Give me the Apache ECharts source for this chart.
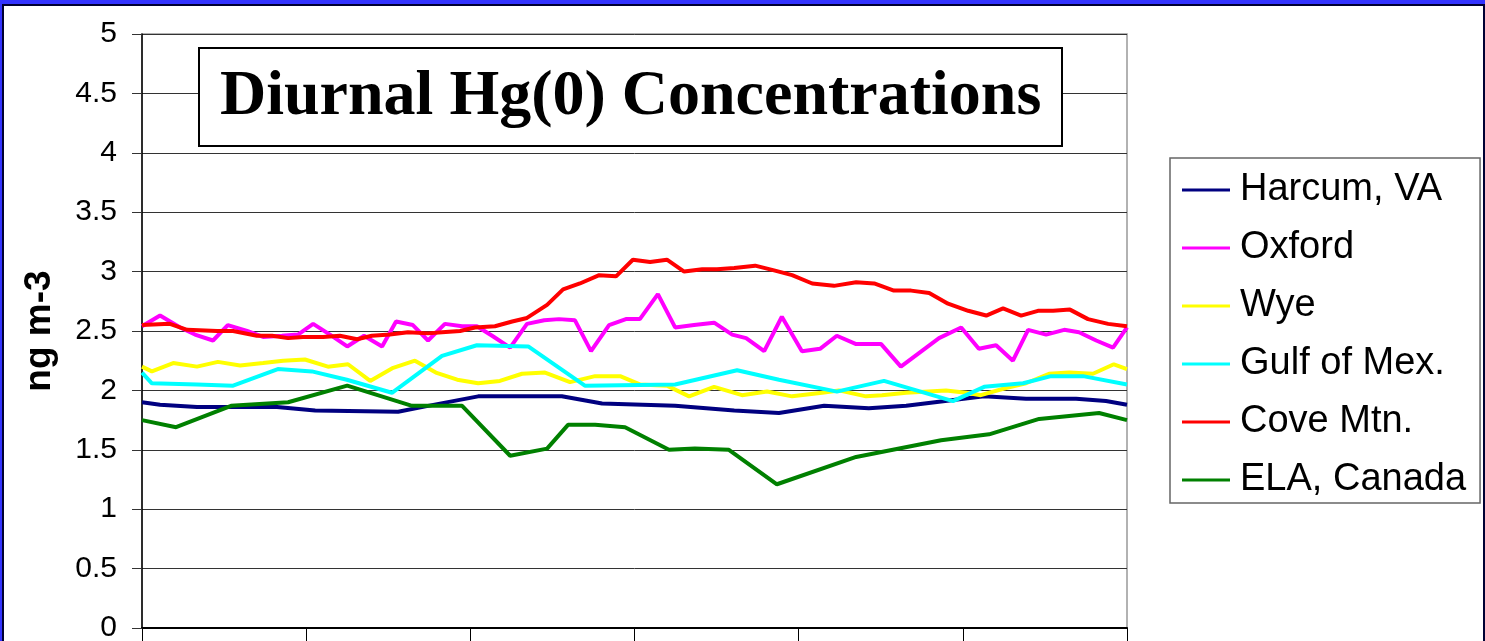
<!DOCTYPE html>
<html>
<head>
<meta charset="utf-8">
<script src="https://cdn.jsdelivr.net/npm/echarts@6/dist/echarts.min.js"></script>
<style>
  html, body { margin: 0; padding: 0; }
  #frame { position: relative; width: 1485px; height: 641px; overflow: hidden; background: #3333ff; }
  #chart {
    position: absolute; left: 2px; top: 4px;
    width: 1479px; height: 640px;
    border: 2px solid #000033; background: #ffffff;
  }
</style>
</head>
<body>
<div id="frame"><div id="chart"></div></div>
<script>
// hour of day (x) and Hg(0) in ng m-3 (y), one pair of arrays per site
const harcumHours = [0, 0.44, 1.34, 3.29, 4.22, 6.24, 6.97, 8.19, 10.23, 11.21, 12.99, 14.43, 15.52, 16.62, 17.71, 18.62, 20.52, 21.54, 22.76, 23.49, 24];
const harcumValues = [1.90, 1.88, 1.86, 1.86, 1.83, 1.82, 1.87, 1.95, 1.95, 1.89, 1.87, 1.83, 1.81, 1.87, 1.85, 1.87, 1.95, 1.93, 1.93, 1.91, 1.88];

const oxfordHours = [0, 0.44, 0.93, 1.29, 1.73, 2.09, 2.56, 2.95, 3.41, 3.80, 4.17, 4.58, 5.00, 5.41, 5.85, 6.19, 6.60, 6.97, 7.38, 7.80, 8.16, 8.53, 8.97, 9.38, 9.80, 10.16, 10.55, 10.94, 11.38, 11.79, 12.13, 12.57, 12.99, 13.45, 13.94, 14.38, 14.72, 15.16, 15.59, 16.08, 16.52, 16.93, 17.40, 18.01, 18.49, 19.42, 19.96, 20.39, 20.81, 21.22, 21.59, 22.03, 22.47, 22.83, 23.25, 23.66, 24];
const oxfordValues = [2.54, 2.63, 2.53, 2.47, 2.42, 2.55, 2.50, 2.45, 2.46, 2.47, 2.56, 2.47, 2.37, 2.46, 2.37, 2.58, 2.55, 2.42, 2.56, 2.54, 2.54, 2.46, 2.36, 2.56, 2.59, 2.60, 2.59, 2.33, 2.55, 2.60, 2.60, 2.81, 2.53, 2.55, 2.57, 2.47, 2.44, 2.33, 2.62, 2.33, 2.35, 2.46, 2.39, 2.39, 2.20, 2.44, 2.53, 2.35, 2.38, 2.25, 2.51, 2.47, 2.51, 2.49, 2.42, 2.36, 2.53];

const wyeHours = [0, 0.24, 0.76, 1.34, 1.85, 2.39, 2.95, 3.44, 3.97, 4.53, 5.02, 5.56, 6.12, 6.65, 7.16, 7.68, 8.19, 8.72, 9.26, 9.82, 10.43, 11.04, 11.65, 12.13, 12.79, 13.33, 13.94, 14.62, 15.23, 15.84, 16.57, 16.98, 17.64, 18.03, 18.62, 19.59, 20.08, 20.44, 21.05, 21.54, 22.10, 22.59, 23.17, 23.68, 24];
const wyeValues = [2.20, 2.16, 2.23, 2.20, 2.24, 2.21, 2.23, 2.25, 2.26, 2.20, 2.22, 2.08, 2.19, 2.25, 2.15, 2.09, 2.06, 2.08, 2.14, 2.15, 2.07, 2.12, 2.12, 2.05, 2.04, 1.95, 2.03, 1.96, 1.99, 1.95, 1.98, 2.00, 1.95, 1.96, 1.98, 2.00, 1.98, 1.96, 2.02, 2.06, 2.14, 2.15, 2.14, 2.22, 2.18];

const gulfHours = [0, 0.24, 1.34, 2.22, 3.31, 4.14, 4.99, 6.09, 7.31, 8.16, 9.41, 10.79, 12.99, 14.50, 15.52, 16.93, 18.08, 19.76, 20.52, 21.47, 22.15, 22.93, 24];
const gulfValues = [2.15, 2.06, 2.05, 2.04, 2.18, 2.16, 2.09, 1.98, 2.29, 2.38, 2.37, 2.04, 2.05, 2.17, 2.09, 1.99, 2.08, 1.91, 2.03, 2.06, 2.12, 2.12, 2.05];

const coveHours = [0, 0.68, 1.10, 1.83, 2.22, 2.80, 3.17, 3.56, 3.92, 4.41, 4.82, 5.24, 5.60, 6.04, 6.48, 6.97, 7.31, 7.75, 8.11, 8.60, 9.02, 9.38, 9.87, 10.26, 10.67, 11.14, 11.55, 11.96, 12.38, 12.79, 13.21, 13.65, 14.01, 14.43, 14.94, 15.40, 15.84, 16.33, 16.86, 17.40, 17.84, 18.32, 18.74, 19.18, 19.64, 20.13, 20.57, 20.98, 21.42, 21.83, 22.20, 22.61, 23.05, 23.54, 24];
const coveValues = [2.55, 2.56, 2.51, 2.50, 2.50, 2.46, 2.46, 2.44, 2.45, 2.45, 2.46, 2.43, 2.46, 2.47, 2.49, 2.48, 2.49, 2.50, 2.53, 2.54, 2.58, 2.61, 2.72, 2.85, 2.90, 2.97, 2.96, 3.10, 3.08, 3.10, 3.00, 3.02, 3.02, 3.03, 3.05, 3.01, 2.97, 2.90, 2.88, 2.91, 2.90, 2.84, 2.84, 2.82, 2.73, 2.67, 2.63, 2.69, 2.63, 2.67, 2.67, 2.68, 2.60, 2.56, 2.54];

const elaHours = [0, 0.83, 2.17, 3.56, 5.00, 6.58, 7.80, 8.97, 9.87, 10.38, 11.04, 11.77, 12.84, 13.47, 14.30, 15.47, 17.40, 19.47, 20.64, 21.86, 23.32, 24];
const elaValues = [1.75, 1.69, 1.87, 1.90, 2.04, 1.87, 1.87, 1.45, 1.51, 1.71, 1.71, 1.69, 1.50, 1.51, 1.50, 1.21, 1.44, 1.58, 1.63, 1.76, 1.81, 1.75];

const siteNames = ["Harcum, VA", "Oxford", "Wye", "Gulf of Mex.", "Cove Mtn.", "ELA, Canada"];
const siteColors = ["#000080", "#ff00ff", "#ffff00", "#00ffff", "#ff0000", "#008000"];
const siteHours = [harcumHours, oxfordHours, wyeHours, gulfHours, coveHours, elaHours];
const siteValues = [harcumValues, oxfordValues, wyeValues, gulfValues, coveValues, elaValues];

const chart = echarts.init(document.getElementById("chart"));

const series = siteNames.map((name, k) => ({
  name: name,
  type: "line",
  symbol: "none",
  animation: false,
  lineStyle: { color: siteColors[k], width: 4 },
  itemStyle: { color: siteColors[k] },
  data: siteHours[k].map((h, i) => [h, siteValues[k][i]]),
}));

chart.setOption({
  backgroundColor: "#ffffff",
  title: {
    text: "Diurnal Hg(0) Concentrations",
    left: 195,
    top: 42,
    padding: [14, 21, 14, 21],
    backgroundColor: "#ffffff",
    borderColor: "#000000",
    borderWidth: 2,
    textStyle: {
      fontFamily: "Liberation Serif",
      fontWeight: "bold",
      fontSize: 64,
      lineHeight: 70,
      color: "#000000",
      textShadowColor: "#b0b0b0",
      textShadowOffsetX: 3,
      textShadowOffsetY: 3,
      textShadowBlur: 0,
    },
  },
  legend: {
    orient: "vertical",
    left: 1166,
    top: 152,
    padding: [12, 14, 3, 12],
    borderColor: "#666666",
    borderWidth: 1.5,
    backgroundColor: "#ffffff",
    icon: "rect",
    itemWidth: 48,
    itemHeight: 3,
    itemGap: 18,
    data: siteNames,
    textStyle: {
      fontFamily: "Liberation Sans",
      fontSize: 38,
      lineHeight: 40,
      color: "#000000",
      padding: [0, 0, 0, 5],
    },
  },
  grid: {
    left: 138,
    right: 356,
    top: 28,
    bottom: 18,
    show: true,
    borderColor: "#999999",
    borderWidth: 1.5,
  },
  xAxis: {
    type: "value",
    min: 0,
    max: 24,
    interval: 4,
    axisLine: { lineStyle: { color: "#000000", width: 2 } },
    axisTick: { show: true, length: 13, lineStyle: { color: "#000000", width: 1 } },
    axisLabel: { show: false },
    splitLine: { show: false },
  },
  yAxis: {
    type: "value",
    min: 0,
    max: 5,
    interval: 0.5,
    name: "ng m-3",
    nameLocation: "middle",
    nameGap: 84,
    nameTextStyle: {
      fontFamily: "Liberation Sans",
      fontWeight: "bold",
      fontSize: 37,
      color: "#000000",
    },
    axisLine: { show: true, lineStyle: { color: "#000000", width: 1.5 } },
    axisTick: { show: true, length: 10, lineStyle: { color: "#333333" } },
    axisLabel: {
      margin: 25,
      fontFamily: "Liberation Sans",
      fontSize: 30,
      color: "#000000",
    },
    splitLine: { show: true, lineStyle: { color: "#333333", width: 1 } },
  },
  series: series,
});
</script>
</body>
</html>
